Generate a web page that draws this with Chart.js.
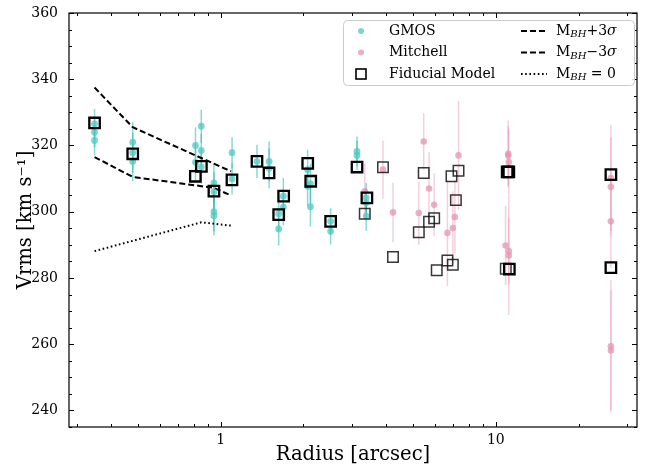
<!DOCTYPE html>
<html><head><meta charset="utf-8">
<script src="https://cdn.jsdelivr.net/npm/chart.js@4/dist/chart.umd.min.js"></script>
<style>html,body{margin:0;padding:0;background:#fff}canvas{display:block}</style>
</head><body>
<canvas id="c" width="649" height="468"></canvas>
<script>
// ---- data ----
const gmosRadius = [0.348,0.348,0.348, 0.479,0.479,0.479, 0.81,0.81, 0.85,0.85,0.85, 0.945,0.945,0.945,0.945, 1.10,1.10, 1.355, 1.50,1.50, 1.625,1.625, 1.69,1.69, 2.07,2.07, 2.12,2.12, 2.51,2.51, 3.13,3.13, 3.38,3.38,3.38];
const gmosVrms   = [326.5,324.0,321.5, 321.0,317.8,315.2, 320.0,314.9, 325.8,318.5,313.5, 308.7,306.0,300.0,298.8, 317.8,309.9, 315.2, 315.2,313.1, 299.4,294.8, 304.7,301.4, 312.7,307.7, 308.5,301.5, 297.1,294.1, 318.2,317.0, 304.2,302.7,298.7];
const gmosErr    = [4.5,4.5,4.5, 6,6,6, 5.5,5.5, 5,5,5, 6,6,6,6, 4.7,4.7, 5, 6,6, 5,5, 5.5,5.5, 6,6, 6,6, 4,4, 4.5,4.5, 4.5,4.5,4.5];

const mitchellRadius = [3.34, 3.89, 4.23, 5.25, 5.47, 5.72, 5.97, 6.67, 6.98, 7.10, 7.32, 11.1,11.1,11.15, 10.85,11.15,11.15, 26.2,26.2,26.2,26.2,26.2];
const mitchellVrms   = [306.2, 312.7, 299.8, 299.6, 321.2, 307.0, 302.1, 293.6, 295.1, 298.4, 317.0, 317.5,316.9,315.0, 289.8,288.1,286.8, 310.2,307.5,297.1,259.4,258.1];
const mitchellErr    = [8.5, 8.8, 9, 9.5, 8.5, 11, 9.5, 16, 11, 11, 16.5, 10,9,10, 12,10,18, 16,15,14,20,18];

const fiducialStrongRadius = [0.348, 0.479, 0.809, 0.851, 0.945, 1.099, 1.355, 1.499, 1.625, 1.694, 2.072, 2.125, 2.51, 3.13, 3.40, 11.0, 11.15, 11.2, 26.2, 26.2];
const fiducialStrongVrms   = [326.8, 317.5, 310.7, 313.7, 306.2, 309.6, 315.2, 311.7, 299.1, 304.7, 314.6, 309.2, 297.1, 313.5, 304.2, 312.0, 312.0, 282.7, 311.2, 283.1];
const fiducialFaintRadius  = [3.34, 3.89, 4.23, 5.25, 5.47, 5.72, 5.97, 6.10, 6.67, 6.90, 6.98, 7.16, 7.32, 10.87];
const fiducialFaintVrms    = [299.4, 313.4, 286.3, 293.8, 311.7, 297.0, 298.0, 282.3, 285.3, 310.7, 284.0, 303.5, 312.4, 282.8];

const plusRadius  = [0.348, 0.479, 1.09];
const plusVrms    = [337.5, 325.5, 312.2];
const minusRadius = [0.348, 0.479, 0.945, 1.09];
const minusVrms   = [316.5, 310.5, 307.2, 304.9];
const zeroRadius  = [0.348, 0.85, 1.09];
const zeroVrms    = [288.1, 296.8, 295.8];

const xTickValues = [1, 10];
const xMinorTicks = [0.3,0.4,0.5,0.6,0.7,0.8,0.9,2,3,4,5,6,7,8,9,20,30];
const yTickValues = [240, 260, 280, 300, 320, 340, 360];
const yMinorStep = 5;

const pts = (xs, ys) => xs.map((x, i) => ({x, y: ys[i]}));

const SERIF = '"DejaVu Serif", "Liberation Serif", serif';
const GMOS_PT = 'rgba(80,200,192,0.75)';
const GMOS_BAR = 'rgba(40,185,176,0.55)';
const MIT_PT = 'rgba(228,150,178,0.75)';
const MIT_BAR = 'rgba(228,150,178,0.45)';

// ---- plugins ----
const errorBars = {
  id: 'errorBars',
  beforeDatasetsDraw(chart) {
    const {ctx, scales: {x, y}} = chart;
    ctx.save();
    chart.data.datasets.forEach(ds => {
      if (!ds.errors) return;
      ctx.strokeStyle = ds.barColor;
      ctx.lineWidth = ds.barWidth;
      ds.data.forEach((p, i) => {
        const px = x.getPixelForValue(p.x);
        ctx.beginPath();
        ctx.moveTo(px, y.getPixelForValue(p.y - ds.errors[i]));
        ctx.lineTo(px, y.getPixelForValue(p.y + ds.errors[i]));
        ctx.stroke();
      });
    });
    ctx.restore();
  }
};

const frameTicks = {
  id: 'frameTicks',
  afterDraw(chart) {
    const {ctx, chartArea: a, scales: {x, y}} = chart;
    ctx.save();
    ctx.strokeStyle = '#000';
    ctx.lineWidth = 1;
    const seg = (x1, y1, x2, y2) => { ctx.beginPath(); ctx.moveTo(x1, y1); ctx.lineTo(x2, y2); ctx.stroke(); };
    const xt = (v, len) => { const p = Math.round(x.getPixelForValue(v)) + 0.5; seg(p, a.bottom, p, a.bottom - len); seg(p, a.top, p, a.top + len); };
    const yt = (v, len) => { const p = Math.round(y.getPixelForValue(v)) + 0.5; seg(a.left, p, a.left + len, p); seg(a.right, p, a.right - len, p); };
    xTickValues.forEach(v => xt(v, 5));
    xMinorTicks.forEach(v => xt(v, 3));
    yTickValues.forEach(v => yt(v, 5));
    for (let v = y.min; v <= y.max; v += yMinorStep) if (!yTickValues.includes(v)) yt(v, 3);
    ctx.lineWidth = 1.2;
    ctx.strokeRect(a.left, a.top, a.right - a.left, a.bottom - a.top);
    ctx.restore();
  }
};

function drawMath(ctx, parts, x, y) {
  let cx = x;
  parts.forEach(p => {
    const size = p.sub ? 10 : 14;
    ctx.font = (p.italic ? 'italic ' : '') + size + 'px ' + SERIF;
    ctx.fillText(p.t, cx, y + (p.sub ? 3.5 : 0));
    cx += ctx.measureText(p.t).width;
  });
}

const legendBox = {
  id: 'legendBox',
  afterDraw(chart) {
    const {ctx, chartArea: a} = chart;
    const right = a.right - 3, left = right - 291, top = a.top + 7, bottom = top + 65;
    ctx.save();
    ctx.fillStyle = 'rgba(255,255,255,0.85)';
    ctx.strokeStyle = '#cccccc';
    ctx.lineWidth = 1;
    ctx.beginPath();
    ctx.roundRect(left + 0.5, top + 0.5, right - left, bottom - top, 4);
    ctx.fill(); ctx.stroke();
    const rows = [top + 11, top + 32.5, top + 54];
    const mx = left + 18, tx = left + 46;
    ctx.fillStyle = GMOS_PT; ctx.beginPath(); ctx.arc(mx, rows[0], 3, 0, Math.PI * 2); ctx.fill();
    ctx.fillStyle = MIT_PT; ctx.beginPath(); ctx.arc(mx, rows[1], 3, 0, Math.PI * 2); ctx.fill();
    ctx.strokeStyle = '#000'; ctx.lineWidth = 1.6; ctx.strokeRect(mx - 5, rows[2] - 5, 10, 10);
    ctx.fillStyle = '#000';
    ctx.textBaseline = 'middle';
    ctx.font = '14px ' + SERIF;
    ctx.fillText('GMOS', tx, rows[0]);
    ctx.fillText('Mitchell', tx, rows[1]);
    ctx.fillText('Fiducial Model', tx, rows[2]);
    const lx1 = left + 178, lx2 = left + 204, t2 = left + 213;
    ctx.lineWidth = 2;
    ctx.setLineDash([6, 3]);
    [rows[0], rows[1]].forEach(r => { ctx.beginPath(); ctx.moveTo(lx1, r); ctx.lineTo(lx2, r); ctx.stroke(); });
    ctx.setLineDash([1.6, 2.6]);
    ctx.beginPath(); ctx.moveTo(lx1, rows[2]); ctx.lineTo(lx2, rows[2]); ctx.stroke();
    ctx.setLineDash([]);
    drawMath(ctx, [{t:'M'},{t:'BH',sub:true,italic:true},{t:'+3'},{t:'σ',italic:true}], t2, rows[0]);
    drawMath(ctx, [{t:'M'},{t:'BH',sub:true,italic:true},{t:'−3'},{t:'σ',italic:true}], t2, rows[1]);
    drawMath(ctx, [{t:'M'},{t:'BH',sub:true,italic:true},{t:' = 0'}], t2, rows[2]);
    ctx.restore();
  }
};

new Chart(document.getElementById('c'), {
  type: 'scatter',
  data: {
    datasets: [
      { label: 'MBH+3σ', data: pts(plusRadius, plusVrms), showLine: true, borderColor: '#000', borderWidth: 2, borderDash: [6, 3], pointRadius: 0, order: 5 },
      { label: 'MBH−3σ', data: pts(minusRadius, minusVrms), showLine: true, borderColor: '#000', borderWidth: 2, borderDash: [6, 3], pointRadius: 0, order: 5 },
      { label: 'MBH = 0', data: pts(zeroRadius, zeroVrms), showLine: true, borderColor: '#000', borderWidth: 2, borderDash: [1.6, 2.6], pointRadius: 0, order: 5 },
      { label: 'GMOS', data: pts(gmosRadius, gmosVrms), errors: gmosErr, barColor: GMOS_BAR, barWidth: 1.5, backgroundColor: GMOS_PT, borderWidth: 0, pointRadius: 3.4, order: 4 },
      { label: 'Mitchell', data: pts(mitchellRadius, mitchellVrms), errors: mitchellErr, barColor: MIT_BAR, barWidth: 1.5, backgroundColor: MIT_PT, borderWidth: 0, pointRadius: 3.3, order: 3 },
      { label: 'Fiducial Model', data: pts(fiducialFaintRadius, fiducialFaintVrms), pointStyle: 'rect', pointRadius: 7.4, backgroundColor: 'rgba(0,0,0,0)', borderColor: 'rgba(20,20,20,0.85)', borderWidth: 1.5, order: 2 },
      { label: 'Fiducial Model ', data: pts(fiducialStrongRadius, fiducialStrongVrms), pointStyle: 'rect', pointRadius: 7.4, backgroundColor: 'rgba(0,0,0,0)', borderColor: '#000', borderWidth: 2.3, order: 1 }
    ]
  },
  options: {
    responsive: false,
    animation: false,
    devicePixelRatio: 1,
    events: [],
    layout: { padding: { left: 0, right: 12, top: 13, bottom: 0 } },
    plugins: { legend: { display: false }, tooltip: { enabled: false } },
    scales: {
      x: {
        type: 'logarithmic', min: 0.281, max: 32.6,
        grid: { display: false }, border: { display: false },
        afterBuildTicks: s => { s.ticks = xTickValues.map(v => ({ value: v })); },
        afterFit: s => { s.height = 41; },
        ticks: { autoSkip: false, maxRotation: 0, padding: -3, color: '#000', font: { family: SERIF, size: 14 }, callback: v => String(v) },
        title: { display: true, text: 'Radius [arcsec]', color: '#000', font: { family: SERIF, size: 19.6, lineHeight: 1.2 }, padding: { top: 0, bottom: 1 } }
      },
      y: {
        type: 'linear', min: 235, max: 360,
        grid: { display: false }, border: { display: false },
        afterBuildTicks: s => { s.ticks = yTickValues.map(v => ({ value: v })); },
        afterFit: s => { s.width = 69; },
        ticks: { padding: 3, color: '#000', font: { family: SERIF, size: 14 } },
        title: { display: true, text: 'Vrms [km s⁻¹]', color: '#000', font: { family: SERIF, size: 19.6, lineHeight: 1.2 }, padding: { top: 14, bottom: 0 } }
      }
    }
  },
  plugins: [errorBars, frameTicks, legendBox]
});
</script>
</body></html>
